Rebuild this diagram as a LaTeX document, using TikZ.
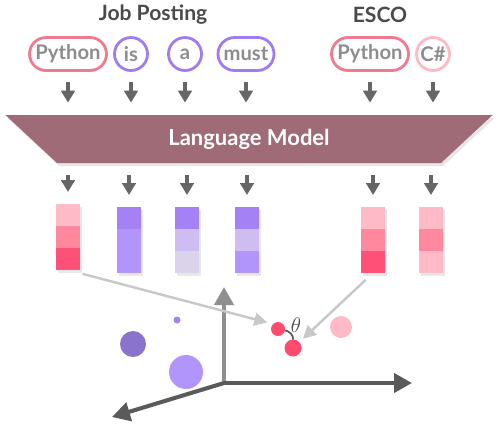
\documentclass[tikz,border=0pt]{standalone}
\usepackage{fontspec}
\setmainfont{Lato}
\usetikzlibrary{arrows.meta,positioning,shapes.geometric,shadows}

\definecolor{titlegray}{HTML}{4A4A4A}
\definecolor{tokgray}{HTML}{8C8C8C}
\definecolor{arrgray}{HTML}{666666}
\definecolor{axgray}{HTML}{5A5A5A}
\definecolor{axlight}{HTML}{8F8F8F}
\definecolor{ptrgray}{HTML}{C8C8C8}
\definecolor{pinkline}{HTML}{F07A90}
\definecolor{pinklight}{HTML}{FFB8C5}
\definecolor{purline}{HTML}{A07CF0}
\definecolor{lmcolor}{HTML}{9E6B77}
\definecolor{pkA}{HTML}{FFBAC8}
\definecolor{pkB}{HTML}{FF889E}
\definecolor{pkC}{HTML}{FF5177}
\definecolor{puA}{HTML}{A482F5}
\definecolor{puB}{HTML}{B295FA}
\definecolor{puC}{HTML}{CDBDF0}
\definecolor{puD}{HTML}{DBD3EA}
\definecolor{puDark}{HTML}{8A73CC}
\definecolor{dotred}{HTML}{FF4B6E}

\begin{document}
\begin{tikzpicture}[x=0.02cm, y=-0.02cm,
  title/.style={text=titlegray, font=\bfseries\fontsize{12}{14}\selectfont},
  token/.style={draw, line width=1.6pt, rounded corners=0.33cm, minimum height=0.66cm,
    minimum width=0.66cm, inner xsep=2pt, text=tokgray, font=\bfseries\fontsize{11.5}{13}\selectfont},
  pytok/.style={token, draw=pinkline, minimum width=1.54cm},
  purtok/.style={token, draw=purline},
  flow/.style={-{Triangle[length=0.24cm,width=0.27cm]}, line width=1.8pt, draw=arrgray,
    shorten <=0.2cm, shorten >=0.24cm},
  cell/.style={minimum width=0.48cm, minimum height=0.44cm, inner sep=0pt, outer sep=0pt,
    drop shadow={opacity=0.18, shadow xshift=0.04cm, shadow yshift=-0.06cm}},
  pointer/.style={-{Triangle[length=0.26cm,width=0.26cm]}, line width=1.4pt, draw=ptrgray},
  axis/.style={-{Triangle[length=0.36cm,width=0.38cm]}, line width=2.3pt, draw=axgray},
  dot/.style={circle, inner sep=0pt, outer sep=0pt}]
\useasboundingbox (0,0) rectangle (499,424);

% Titres
\node[title] (jp) at (153,15) {Job Posting};
\node[title] (esco) at (380,15) {ESCO};

% Jetons
\node[pytok] (t1) at (68,54) {Python};
\node[purtok] (t2) at (131,54) {is};
\node[purtok] (t3) at (185,54) {a};
\node[purtok, minimum width=1.12cm] (t4) at (246,54) {must};
\node[pytok] (e1) at (370,54) {Python};
\node[token, draw=pinklight] (e2) at (433,54) {C\#};

% Le modele
\node[trapezium, shape border rotate=180, trapezium stretches=true, trapezium angle=54,
  minimum width=9.76cm, minimum height=0.96cm, fill=lmcolor, text=white,
  font=\bfseries\fontsize{12.5}{14}\selectfont,
  drop shadow={opacity=0.2, shadow xshift=0.04cm, shadow yshift=-0.06cm}] (lm) at (249,139) {Language Model};

\foreach \t in {t1,t2,t3,t4,e1,e2}
  \draw[flow] (\t.south) -- (\t.south |- lm.north);

% Vecteurs
\foreach \n/\x/\y/\ca/\cb/\cc in {1/68/215/pkA/pkB/pkC, 2/129/218/puA/puB/puB,
    3/187/218/puA/puC/puD, 4/247/218/puA/puC/puB, 5/373/218/pkA/pkB/pkC, 6/431/218/pkA/pkB/pkA} {
  \node[cell, fill=\ca] (v\n a) at (\x,\y) {};
  \node[cell, fill=\cb, below=0pt of v\n a] (v\n b) {};
  \node[cell, fill=\cc, below=0pt of v\n b] (v\n c) {};
  \draw[flow, shorten <=0.24cm] (v\n a.north |- lm.south) -- (v\n a.north);
}

% Axes
\coordinate (O) at (224,383);
\coordinate (X) at (412,383);
\coordinate (Y) at (224,287);
\coordinate (Z) at (112,417);
\draw[axis, draw=axlight] (O) -- (Y);
\draw[axis] (O) -- (X);
\draw[axis] (O) -- (Z);

% Points de l'espace
\node[dot, fill=puDark, minimum size=0.52cm] (p1) at (133,344) {};
\node[dot, fill=puA, minimum size=0.14cm] (p2) at (177,320) {};
\node[dot, fill=puB, minimum size=0.68cm] (p3) at (186,372) {};
\node[dot, fill=dotred, minimum size=0.28cm] (d1) at (278,329) {};
\node[dot, fill=dotred, minimum size=0.34cm] (d2) at (293,348) {};
\node[dot, fill=pkA, minimum size=0.44cm] (p4) at (341,327) {};

% Angle
\draw[line width=1pt, draw=axgray] (d1) to[bend left=40] (d2);
\node[text=titlegray, font=\fontsize{12}{14}\selectfont] (th) at (296,325) {$\theta$};

% Fleches vers l'espace
\draw[pointer, shorten <=0.3cm, shorten >=0.12cm] (v1c.south) -- (d1.north west);
\draw[pointer, shorten <=0.2cm, shorten >=0.1cm] (v5c.south) -- (d2);

\end{tikzpicture}
\end{document}
